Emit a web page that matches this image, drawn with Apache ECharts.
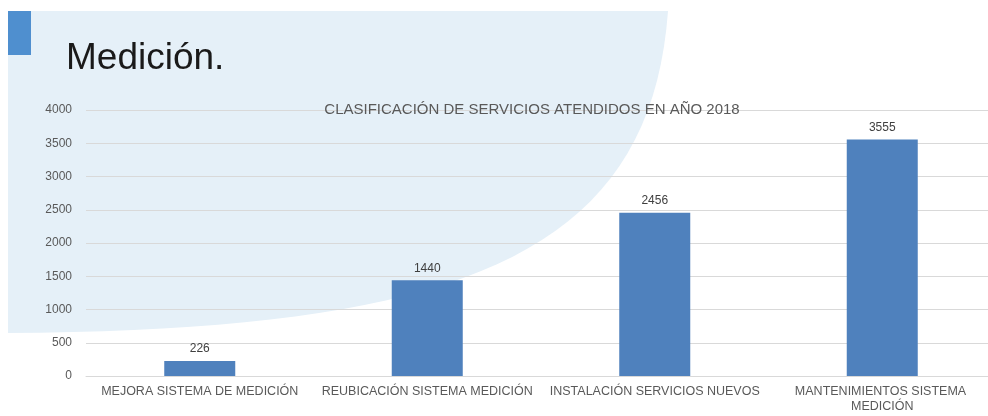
<!DOCTYPE html>
<html>
<head>
<meta charset="utf-8">
<script src="https://cdn.jsdelivr.net/npm/echarts@6/dist/echarts.min.js"></script>
<style>
  html, body { margin: 0; padding: 0; background: #ffffff; overflow: hidden; }
  #chart { width: 1000px; height: 416px; }
</style>
</head>
<body>
<div id="chart"></div>
<script>
var categories = [
  'MEJORA SISTEMA DE MEDICIÓN',
  'REUBICACIÓN SISTEMA MEDICIÓN',
  'INSTALACIÓN SERVICIOS NUEVOS',
  'MANTENIMIENTOS SISTEMA MEDICIÓN'
];
var servicios = [226, 1440, 2456, 3555];
var yTicks = [0, 500, 1000, 1500, 2000, 2500, 3000, 3500, 4000];

var chart = echarts.init(document.getElementById('chart'));

// fondo de la diapositiva: rectangulo cortado por una curva (bezier cubica)
function curvaFondo() {
  var p0 = [668, 11], p1 = [650, 260], p2 = [450, 330], p3 = [8, 333];
  var pts = [[8, 11]];
  for (var i = 0; i <= 40; i++) {
    var t = i / 40, u = 1 - t;
    var a = u * u * u, b = 3 * u * u * t, c = 3 * u * t * t, d = t * t * t;
    pts.push([a * p0[0] + b * p1[0] + c * p2[0] + d * p3[0],
              a * p0[1] + b * p1[1] + c * p2[1] + d * p3[1]]);
  }
  return pts;
}

var option = {
  backgroundColor: '#ffffff',
  textStyle: { fontFamily: 'Liberation Sans, Arial, sans-serif' },
  graphic: [
    { type: 'polygon', z: -10, silent: true, shape: { points: curvaFondo() },
      style: { fill: '#e5f0f8' } },
    { type: 'rect', z: -9, silent: true, shape: { x: 8, y: 11, width: 23, height: 44 },
      style: { fill: '#4f8fcf' } },
    { type: 'text', z: -8, left: 66, top: 40, silent: true,
      style: { text: 'Medición.', fill: '#1a1a1a', font: '37px "Liberation Sans", Arial, sans-serif' } }
  ],
  title: {
    text: 'CLASIFICACIÓN DE SERVICIOS ATENDIDOS EN AÑO 2018',
    left: 527,
    top: 97,
    textAlign: 'center',
    textStyle: { fontSize: 15, fontWeight: 'normal', color: '#595959', fontFamily: 'Liberation Sans, Arial, sans-serif' }
  },
  grid: { left: 86, width: 910, top: 110, bottom: 40, containLabel: false },
  xAxis: {
    type: 'category',
    data: categories,
    axisLine: { lineStyle: { color: '#d9d9d9' } },
    axisTick: { show: false },
    axisLabel: {
      color: '#595959', fontSize: 12.5, margin: 8, interval: 0,
      width: 222, overflow: 'break', lineHeight: 15
    }
  },
  yAxis: {
    type: 'value',
    min: yTicks[0],
    max: yTicks[yTicks.length - 1],
    interval: 500,
    axisLine: { show: false },
    axisTick: { show: false },
    axisLabel: { color: '#595959', fontSize: 12, margin: 14, formatter: function (v) { return String(v); } },
    splitLine: { lineStyle: { color: '#d9d9d9', width: 1 } }
  },
  series: [{
    type: 'bar',
    data: servicios,
    barWidth: 71,
    itemStyle: { color: '#4f81bd' },
    label: { show: true, position: 'top', color: '#404040', fontSize: 12, distance: 6 }
  }]
};
chart.setOption(option);
</script>
</body>
</html>
